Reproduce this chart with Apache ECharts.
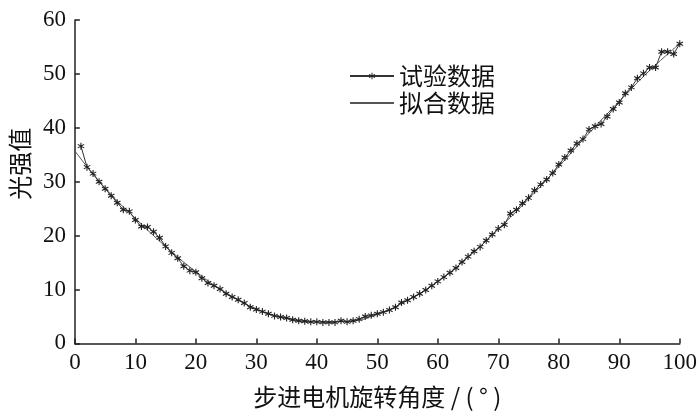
<!DOCTYPE html>
<html>
<head>
<meta charset="utf-8">
<script src="https://cdn.jsdelivr.net/npm/echarts@6/dist/echarts.min.js"></script>
<style>html,body{margin:0;padding:0;background:#fff}#c{width:700px;height:416px}</style>
</head>
<body>
<div id="c"></div>
<script>
var angles = [];
for (var i = 1; i <= 100; i++) angles.push(i);
var measured = [36.6,32.7,31.5,30.0,28.7,27.4,26.1,24.8,24.5,22.9,
21.7,21.6,20.7,19.6,18.0,16.8,15.8,14.3,13.5,13.2,
12.1,11.2,10.7,10.1,9.2,8.6,8.1,7.5,6.7,6.3,
5.9,5.5,5.1,4.9,4.7,4.4,4.2,4.1,4.0,4.0,
3.9,3.9,3.9,4.2,4.0,4.2,4.5,5.0,5.2,5.5,
5.8,6.2,6.7,7.6,8.0,8.6,9.2,9.9,10.7,11.5,
12.3,13.1,14.0,15.1,16.1,17.1,17.9,19.1,20.2,21.3,
22.0,24.1,24.8,26.0,27.0,28.4,29.5,30.4,31.6,33.2,
34.5,35.8,37.1,37.9,39.7,40.3,40.7,42.1,43.5,44.7,
46.4,47.5,49.2,50.1,51.2,51.2,54.1,54.1,53.7,55.6];
var fitAngles = [0,5,10,15,20,25,30,35,40,45,50,55,60,65,70,75,80,85,90,95,100];
var fitValues = [35.7,28.8,23.2,18.0,13.3,9.4,6.4,4.7,4.0,4.1,5.4,8.0,11.5,16.0,21.2,26.8,32.8,39.0,44.9,50.6,55.6];
var xTicks = [0,10,20,30,40,50,60,70,80,90,100];
var yTicks = [0,10,20,30,40,50,60];
var seriesNames = ['试验数据','拟合数据'];
var xName = '步进电机旋转角度 / ( ° )';
var yName = '光强值';

var star = 'path://M-0.15,-1L0.15,-1L0.15,1L-0.15,1Z' +
  'M-0.941,-0.37L-0.791,-0.63L0.941,0.37L0.791,0.63Z' +
  'M-0.791,0.63L-0.941,0.37L0.791,-0.63L0.941,-0.37Z';

var measData = angles.map(function (a, i) { return [a, measured[i]]; });
var fitData = fitAngles.map(function (a, i) { return [a, fitValues[i]]; });

var chart = echarts.init(document.getElementById('c'));
var numFont = 'Liberation Serif';
var cjkFont = 'Noto Sans CJK SC';
chart.setOption({
  animation: false,
  backgroundColor: '#fff',
  grid: { left: 72.5, right: 17, top: 20, bottom: 72.6 },
  legend: {
    orient: 'vertical',
    left: 344, top: 59,
    itemWidth: 44, itemHeight: 8, itemGap: 3,
    textStyle: { fontFamily: cjkFont, fontSize: 24, color: '#111' },
    data: [
      { name: seriesNames[0] },
      { name: seriesNames[1], itemStyle: { opacity: 0 } }
    ]
  },
  xAxis: {
    type: 'value', min: 0, max: 100, interval: 10,
    name: xName, nameLocation: 'middle', nameGap: 41,
    nameTextStyle: { fontFamily: cjkFont, fontSize: 24, color: '#111' },
    axisLine: { show: true, lineStyle: { color: '#222', width: 1.5 } },
    axisTick: { show: true, inside: true, length: 5, lineStyle: { color: '#222', width: 1.5 } },
    axisLabel: { fontFamily: numFont, fontSize: 23, color: '#111', margin: 8,
      formatter: function (v) { return xTicks.indexOf(v) >= 0 ? String(v) : ''; } },
    splitLine: { show: false }
  },
  yAxis: {
    type: 'value', min: 0, max: 60, interval: 10,
    name: yName, nameLocation: 'middle', nameGap: 41, nameRotate: 90,
    nameTextStyle: { fontFamily: cjkFont, fontSize: 24, color: '#111', padding: [0, 0, 0, 36] },
    axisLine: { show: true, lineStyle: { color: '#222', width: 1.5 } },
    axisTick: { show: true, inside: true, length: 5, lineStyle: { color: '#222', width: 1.5 } },
    axisLabel: { fontFamily: numFont, fontSize: 23, color: '#111', margin: 9,
      formatter: function (v) { return yTicks.indexOf(v) >= 0 ? String(v) : ''; } },
    splitLine: { show: false }
  },
  series: [
    {
      name: seriesNames[0], type: 'line', data: measData,
      symbol: star, symbolSize: 7, showAllSymbol: true,
      lineStyle: { color: '#333', width: 1 },
      itemStyle: { color: '#222' },
      z: 3
    },
    {
      name: seriesNames[1], type: 'line', data: fitData,
      symbol: 'none', smooth: 0.5,
      lineStyle: { color: '#555', width: 1 },
      itemStyle: { color: '#555' },
      z: 2
    }
  ]
});
</script>
</body>
</html>
